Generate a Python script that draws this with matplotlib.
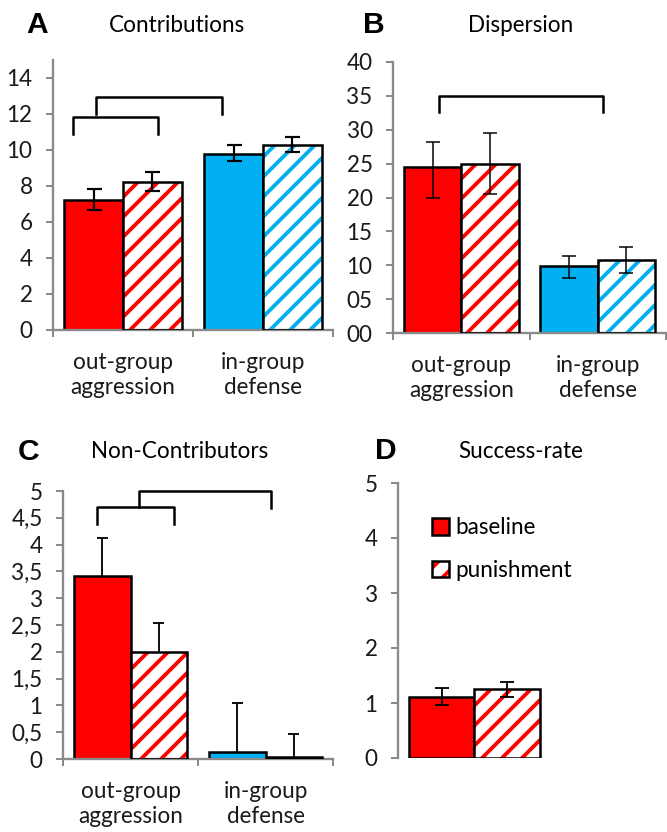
import matplotlib
matplotlib.use('Agg')
import matplotlib.pyplot as plt
from matplotlib.patches import Patch
import numpy as np

plt.rcParams['font.family'] = ['Lato', 'DejaVu Sans']
plt.rcParams['hatch.linewidth'] = 2.3

RED = '#FF0000'
BLUE = '#00B0F0'
GRAY = '#8a8a8a'
FS = 13.5

# ---- data ----
groups = ['out-group\naggression', 'in-group\ndefense']

# A: contributions
A_base = [7.2, 9.8]
A_base_lo = [6.65, 9.4]
A_base_hi = [7.85, 10.3]
A_pun = [8.25, 10.3]
A_pun_lo = [7.7, 9.9]
A_pun_hi = [8.8, 10.7]
A_ticks = [0, 2, 4, 6, 8, 10, 12, 14]
A_ticklabels = ['0', '2', '4', '6', '8', '10', '12', '14']

# B: dispersion
B_base = [24.5, 9.9]
B_base_lo = [19.9, 8.1]
B_base_hi = [28.2, 11.3]
B_pun = [25.0, 10.8]
B_pun_lo = [20.5, 8.9]
B_pun_hi = [29.5, 12.7]
B_ticks = [0, 5, 10, 15, 20, 25, 30, 35, 40]
B_ticklabels = ['00', '05', '10', '15', '20', '25', '30', '35', '40']

# C: non-contributors (upper error only)
C_base = [3.42, 0.13]
C_base_hi = [4.12, 1.04]
C_pun = [2.0, 0.04]
C_pun_hi = [2.53, 0.46]
C_ticks = [0, 0.5, 1, 1.5, 2, 2.5, 3, 3.5, 4, 4.5, 5]
C_ticklabels = ['0', '0,5', '1', '1,5', '2', '2,5', '3', '3,5', '4', '4,5', '5']

# D: success-rate (one group)
D_base = [1.11]
D_base_lo = [0.96]
D_base_hi = [1.27]
D_pun = [1.25]
D_pun_lo = [1.11]
D_pun_hi = [1.38]
D_ticks = [0, 1, 2, 3, 4, 5]

# significance brackets: (x_left, x_right, top, left_bottom, right_bottom)
A_brackets = [(-0.36, 0.25, 11.85, 10.9, 10.9), (-0.19, 0.71, 12.95, 12.0, 12.0)]
B_brackets = [(-0.16, 1.04, 35.0, 32.6, 32.6)]
C_brackets = [(-0.25, 0.32, 4.70, 4.38, 4.38), (0.06, 1.04, 5.0, 4.70, 4.68)]

W, H = 667, 832
DPI = 120
fig = plt.figure(figsize=(W / DPI, H / DPI), dpi=DPI)


def px_axes(l, t, r, b):
    return fig.add_axes([l / W, 1 - b / H, (r - l) / W, (b - t) / H])


def style(ax, ticks, labels, ylim, xaxis=True):
    ax.set_ylim(*ylim)
    ax.set_yticks(ticks)
    ax.set_yticklabels(labels, fontsize=FS)
    for s in ['top', 'right']:
        ax.spines[s].set_visible(False)
    ax.spines['left'].set_color(GRAY)
    ax.spines['left'].set_linewidth(1.4)
    ax.tick_params(axis='y', colors=GRAY, length=4.2, width=1.2, pad=8, labelcolor='#1a1a1a')
    if xaxis:
        ax.spines['bottom'].set_color(GRAY)
        ax.spines['bottom'].set_linewidth(1.4)
        ax.set_xlim(-0.5, 1.5)
        ax.set_xticks([0, 1])
        ax.set_xticklabels(groups, fontsize=FS, linespacing=1.25)
        ax.set_xticks([-0.5, 0.5, 1.5], minor=True)
        ax.tick_params(axis='x', which='major', length=0, pad=13, labelcolor='#1a1a1a')
        ax.tick_params(axis='x', which='minor', length=4.2, width=1.2, colors=GRAY)
    else:
        ax.spines['bottom'].set_visible(False)
        ax.set_xticks([])


def bars(ax, x, base, pun, colors, bw):
    x = np.asarray(x, dtype=float)
    ax.bar(x - bw / 2, base, bw, color=colors, edgecolor='black', linewidth=1.5, zorder=2)
    ax.bar(x + bw / 2, pun, bw, color='white', edgecolor=colors, hatch='//', linewidth=0, zorder=2)
    ax.bar(x + bw / 2, pun, bw, fill=False, edgecolor='black', linewidth=1.5, zorder=3)


def errs(ax, x, vals, lo, hi, lw, cap):
    vals = np.asarray(vals)
    yerr = [vals - np.asarray(lo), np.asarray(hi) - vals]
    ax.errorbar(x, vals, yerr=yerr, fmt='none', ecolor='black', elinewidth=lw,
                capsize=cap, capthick=lw, zorder=4)


def brackets(ax, blist, lw=1.5):
    for xl, xr, top, bl, br in blist:
        ax.plot([xl, xl, xr, xr], [bl, top, top, br], color='black', lw=lw,
                clip_on=False, solid_joinstyle='round', zorder=5)


bw = 0.42
x2 = np.arange(2)

# ---- A ----
axA = px_axes(53, 60, 333, 330)
bars(axA, x2, A_base, A_pun, [RED, BLUE], bw)
errs(axA, x2 - bw / 2, A_base, A_base_lo, A_base_hi, 1.3, 4.5)
errs(axA, x2 + bw / 2, A_pun, A_pun_lo, A_pun_hi, 1.3, 4.5)
brackets(axA, A_brackets)
style(axA, A_ticks, A_ticklabels, (0, 15))

# ---- B ----
axB = px_axes(393, 62, 666, 333)
bars(axB, x2, B_base, B_pun, [RED, BLUE], bw)
errs(axB, x2 - bw / 2, B_base, B_base_lo, B_base_hi, 0.9, 4)
errs(axB, x2 + bw / 2, B_pun, B_pun_lo, B_pun_hi, 0.9, 4)
brackets(axB, B_brackets)
style(axB, B_ticks, B_ticklabels, (0, 40))

# ---- C ----
axC = px_axes(63, 491, 333, 759)
bars(axC, x2, C_base, C_pun, [RED, BLUE], bw)
for xs, v, hi in [(x2 - bw / 2, C_base, C_base_hi), (x2 + bw / 2, C_pun, C_pun_hi)]:
    axC.vlines(xs, v, hi, color='black', lw=1.1, zorder=4)
    axC.hlines(hi, xs - 0.04, xs + 0.04, color='black', lw=1.1, zorder=4)
brackets(axC, C_brackets)
style(axC, C_ticks, C_ticklabels, (0, 5))

# ---- D ----
axD = px_axes(398, 483, 551, 758)
bwD = 0.43
x1 = np.arange(1)
bars(axD, x1, D_base, D_pun, [RED], bwD)
errs(axD, x1 - bwD / 2, D_base, D_base_lo, D_base_hi, 1.1, 4)
errs(axD, x1 + bwD / 2, D_pun, D_pun_lo, D_pun_hi, 1.1, 4)
style(axD, D_ticks, [str(t) for t in D_ticks], (0, 5), xaxis=False)
axD.set_xlim(-0.5, 0.5)

h_base = Patch(facecolor=RED, edgecolor='black', linewidth=1.5)
h_pun = (Patch(facecolor='white', edgecolor=RED, hatch='//', linewidth=0),
         Patch(fill=False, edgecolor='black', linewidth=1.5))
axD.legend([h_base, h_pun], ['baseline', 'punishment'], loc='upper left',
           bbox_to_anchor=(0.22, 0.875), frameon=False, fontsize=FS,
           handlelength=0.75, handleheight=0.75, handletextpad=0.3,
           labelspacing=0.95, borderpad=0, borderaxespad=0)

# ---- panel letters and titles ----
for lx, tx, y, letter, title in [(37, 177, 25, 'A', 'Contributions'),
                                   (374, 521, 25, 'B', 'Dispersion'),
                                   (29, 180, 452, 'C', 'Non-Contributors'),
                                   (386, 521, 451, 'D', 'Success-rate')]:
    fig.text(lx / W, 1 - y / H, letter, fontsize=18, fontweight='bold',
             family=['Liberation Sans', 'DejaVu Sans'], ha='center', va='center')
    fig.text(tx / W, 1 - y / H, title, fontsize=FS, ha='center', va='center')

fig.savefig('out.png', dpi=DPI)
